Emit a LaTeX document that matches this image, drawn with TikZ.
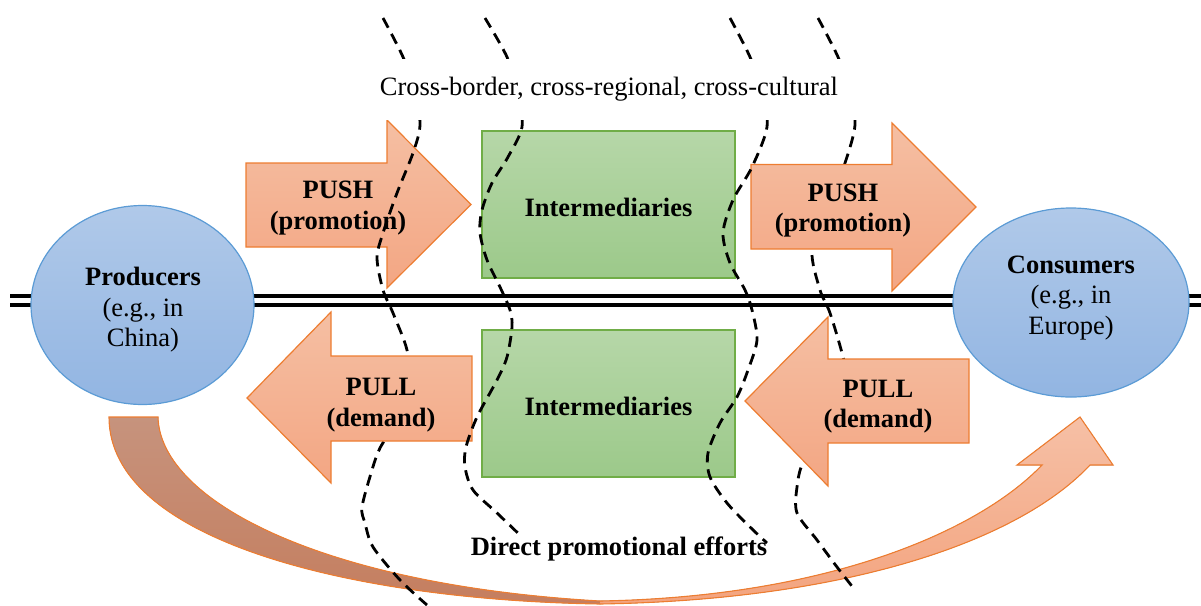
\documentclass[tikz,border=0pt]{standalone}
\usepackage{fontspec}
\setmainfont{Liberation Serif}
\usetikzlibrary{shapes.geometric}
\definecolor{blutop}{HTML}{B0C9E9}
\definecolor{blubot}{HTML}{92B5E2}
\definecolor{ellline}{HTML}{5B9BD5}
\definecolor{grntop}{HTML}{B6D7A8}
\definecolor{grnbot}{HTML}{9CC98A}
\definecolor{grnline}{HTML}{70AD47}
\definecolor{ortop}{HTML}{F5BFA3}
\definecolor{orbot}{HTML}{F3A683}
\definecolor{orline}{HTML}{ED7D31}
\definecolor{brtop}{HTML}{C6937D}
\definecolor{brbot}{HTML}{C57E5F}
\definecolor{bandtop}{HTML}{F6C0A6}
\definecolor{bandbot}{HTML}{F3A47F}
\newcommand\bigsz{\fontsize{26.5}{30.5}\selectfont}
\begin{document}
\begin{tikzpicture}[x=1pt,y=-1pt,
  ell/.style={ellipse, draw=ellline, line width=1.2pt, top color=blutop, bottom color=blubot,
    inner sep=0pt},
  imed/.style={rectangle, draw=grnline, line width=1.2pt, top color=grntop, bottom color=grnbot,
    minimum width=253pt, minimum height=147pt, inner sep=0pt},
  arr/.style={draw=orline, line width=1.2pt, top color=ortop, bottom color=orbot, line join=miter},
  lbl/.style={align=center, font=\bigsz\bfseries, inner sep=0pt},
  plain/.style={align=center, font=\bigsz, inner sep=0pt},
  bdash/.style={line width=2.8pt, dash pattern=on 11pt off 7pt, black},
  dline/.style={line width=3.5pt, black}
]
\useasboundingbox (0,0) rectangle (1201,605);

% double line
\coordinate (la) at (10,296);
\coordinate (lb) at (1201,296);
\coordinate (lc) at (10,305);
\coordinate (ld) at (1201,305);
\draw[dline] (la) -- (lb);
\draw[dline] (lc) -- (ld);

% ellipses
\node[ell, minimum width=223pt, minimum height=199pt] (prod) at (142.5,305) {};
\node[plain] (prodtxt) at (143,310) {\textbf{Producers}\\(e.g., in\\China)};
\node[ell, minimum width=236pt, minimum height=189pt] (cons) at (1071,302.5) {};
\node[plain] (constxt) at (1071,298) {\textbf{Consumers}\\(e.g., in\\Europe)};

% curved band
\fill[top color=brtop, bottom color=brbot] (109,417) .. controls (109,540) and (350,600) .. (600,604)
  -- (600,601) .. controls (320,585) and (160,500) .. (158,417) -- cycle;
\fill[top color=bandtop, bottom color=bandbot] (600,604) .. controls (850,600) and (1020,540) .. (1090,465)
  -- (1113,465) -- (1080,417) -- (1017,465) -- (1042,465)
  .. controls (980,530) and (830,597) .. (600,601) -- cycle;
\draw[orline, line width=1.1pt, line join=miter] (109,417) .. controls (109,540) and (350,600) .. (600,604)
  .. controls (850,600) and (1020,540) .. (1090,465)
  -- (1113,465) -- (1080,417) -- (1017,465) -- (1042,465)
  .. controls (980,530) and (830,597) .. (600,601)
  .. controls (320,585) and (160,500) .. (158,417) -- cycle;

% line 4 (beneath right arrows)
\draw[bdash] plot[smooth] coordinates {(818,18) (838,57) (850,92) (855,125) (845,163) (828,207)
  (812,250) (820,290) (830,313) (843,357) (850,395) (825,435) (803,463) (797,487) (797,513)
  (817,540) (837,567) (855,590)};

% right arrows
\draw[arr] (751,164.5) -- (892,164.5) -- (892,123) -- (976,207) -- (892,291) -- (892,249)
  -- (751,249) -- cycle;
\node[lbl] (push2) at (843,210.5) {PUSH\\(promotion)};
\draw[arr] (969,359) -- (828,359) -- (828,317) -- (745,401) -- (828,486) -- (828,443)
  -- (969,443) -- cycle;
\node[lbl] (pull2) at (878,406.5) {PULL\\(demand)};

% left push arrow
\draw[arr] (246,163) -- (387,163) -- (387,120) -- (471,204.5) -- (387,288) -- (387,247)
  -- (246,247) -- cycle;
\node[lbl] (push1) at (338,208) {PUSH\\(promotion)};

% line 1
\draw[bdash] plot[smooth] coordinates {(383,18) (403,57) (415,92) (420,125) (413,153) (397,193)
  (383,233) (377,258) (383,290) (393,313) (407,350) (410,385) (397,420) (380,448) (372,470)
  (362,507) (365,523) (373,547) (400,580) (427,605)};

% left pull arrow
\draw[arr] (472,356) -- (331,356) -- (331,312) -- (247,398) -- (331,483) -- (331,441)
  -- (472,441) -- cycle;
\node[lbl] (pull1) at (381,405) {PULL\\(demand)};

% intermediaries
\node[imed] (im1) at (608.5,204.5) {};
\node[lbl] (im1txt) at (608.5,207.5) {Intermediaries};
\node[imed] (im2) at (608.5,403.5) {};
\node[lbl] (im2txt) at (608.5,406.5) {Intermediaries};

% bottom label
\node[lbl] (direct) at (619,549) {Direct promotional efforts};

% lines 2 and 3
\draw[bdash] plot[smooth] coordinates {(485,18) (507,57) (518,92) (522,127) (508,157) (492,183)
  (482,210) (480,233) (487,260) (500,287) (510,310) (512,327) (507,357) (497,380) (477,417)
  (466,447) (465,467) (473,490) (497,513) (522,537)};
\draw[bdash] plot[smooth] coordinates {(730,18) (750,57) (762,92) (767,127) (752,167) (733,200)
  (723,233) (730,263) (745,290) (752,310) (757,340) (748,370) (737,397) (720,423) (708,453)
  (710,477) (727,503) (750,527) (767,543)};

% top label with its white ground
\fill[white] (368,59) rectangle (864,119.5);
\node[plain] (cross) at (609,89) {Cross-border, cross-regional, cross-cultural};
\end{tikzpicture}
\end{document}
